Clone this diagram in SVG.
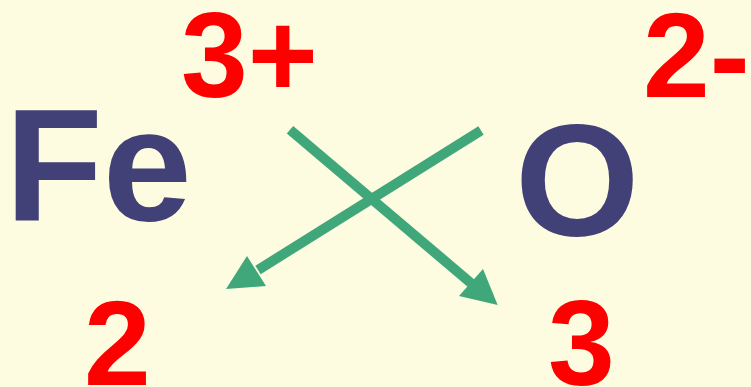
<svg xmlns="http://www.w3.org/2000/svg" width="751" height="387" viewBox="0 0 751 387">
<style>
.el{font-family:"Liberation Sans",Arial,sans-serif;font-weight:bold;font-size:160px;fill:#414177}
.num{font-family:"Liberation Sans",Arial,sans-serif;font-weight:bold;font-size:120px;fill:#FF0000}
.arr{stroke:#40A77A;stroke-width:10;fill:none}
.head{fill:#40A77A}
</style>
<rect width="751" height="387" fill="#FDFCE0"/>
<g id="fe"><text class="el" x="5" y="220">Fe</text></g>
<g id="fe-charge"><text class="num" x="181" y="97">3+</text></g>
<g id="o"><text class="el" x="515" y="235">O</text></g>
<g id="o-charge"><text class="num" x="643" y="97">2-</text></g>
<g id="sub2"><text class="num" x="84" y="385">2</text></g>
<g id="sub3"><text class="num" x="548" y="385">3</text></g>
<g id="connectors">
<line class="arr" x1="481" y1="130.5" x2="258" y2="270"/>
<polygon class="head" points="226,289 247,256 266,286"/>
<line class="arr" x1="290" y1="129.7" x2="472" y2="284"/>
<polygon class="head" points="497.7,305 459,296 483,269"/>
</g>
</svg>
